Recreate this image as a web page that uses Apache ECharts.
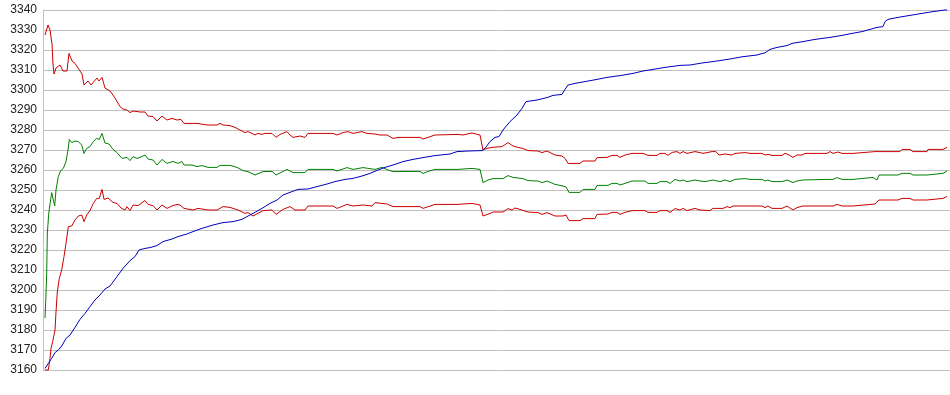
<!DOCTYPE html>
<html>
<head>
<meta charset="utf-8">
<script src="https://cdn.jsdelivr.net/npm/echarts@6/dist/echarts.min.js"></script>
<style>html,body{margin:0;padding:0;background:#fff;}#c{width:950px;height:395px;}</style>
</head>
<body>
<div id="c"></div>
<script>
// y-axis ticks
const yTicks = [3160,3170,3180,3190,3200,3210,3220,3230,3240,3250,3260,3270,3280,3290,3300,3310,3320,3330,3340];
// time index span
const tMax = 907;

// Upper band (red) [time, value]
const upperBand = [[2,3327.5],[5,3332.5],[7,3330],[9,3323],[10,3313],[11,3308],[13,3311],[17,3312.5],[20,3309.5],[24,3309.5],[26,3318.3],[29,3314.5],[32,3313.3],[35,3311],[39,3308],[41,3302.5],[45,3304.5],[48,3302.5],[54,3306],[56,3304.5],[59,3306.3],[62,3301],[67,3299.5],[72,3296],[77,3291.7],[80,3290.5],[84,3290],[87,3288.7],[90,3289.5],[97,3289],[102,3289],[105,3287],[110,3286.7],[114,3284.5],[119,3287],[124,3285],[129,3285.8],[134,3285],[138,3285.3],[141,3283.3],[149,3283.3],[150,3282.5],[155,3283.3],[160,3282.8],[165,3282.5],[174,3282.5],[177,3283.3],[180,3282.5],[187,3282.2],[192,3281.3],[197,3280],[202,3278.7],[205,3279.2],[209,3278.3],[212,3277.5],[215,3278.3],[219,3277.8],[222,3278.3],[229,3278.3],[233,3276.3],[237,3277.8],[244,3279.2],[247,3277.5],[250,3276.3],[257,3277],[262,3276.3],[265,3278.3],[290,3278.3],[294,3277.5],[300,3278.7],[305,3279.2],[310,3278.3],[319,3279.2],[324,3278.3],[332,3278],[337,3277.5],[344,3277.5],[350,3275.8],[355,3276.3],[377,3276.3],[380,3275.5],[385,3276.3],[392,3277.5],[415,3277.8],[417,3278.3],[420,3277.5],[429,3278.5],[437,3277.5],[440,3270],[442,3270.3],[444,3270.8],[449,3271.3],[459,3271.7],[465,3273.7],[470,3272],[475,3271.3],[480,3270.8],[485,3269.7],[495,3269.5],[499,3268.7],[504,3269.5],[512,3267.5],[519,3267],[522,3265.8],[525,3263.3],[537,3263.3],[540,3264.5],[552,3264.5],[554,3266.2],[564,3266.3],[569,3267.3],[574,3267.3],[577,3266.3],[582,3267.5],[589,3268.3],[600,3268.3],[605,3267.3],[614,3267.3],[617,3268.3],[622,3268.3],[625,3267.3],[629,3268.8],[634,3269.2],[637,3268.3],[640,3269.2],[644,3268.3],[652,3269.2],[657,3268.7],[660,3268.3],[669,3269.2],[673,3269.2],[676,3267.5],[682,3268],[689,3267.5],[692,3268.3],[702,3268.7],[707,3268.3],[719,3268.3],[722,3267.5],[725,3267.8],[729,3267.3],[739,3267.3],[742,3268.3],[745,3267.8],[750,3266.3],[754,3267.5],[759,3267.5],[762,3268.3],[784,3268.3],[787,3269.2],[790,3268.3],[795,3269],[799,3268.3],[810,3268.3],[812,3269.2],[832,3269.2],[834,3268.3],[837,3269.2],[857,3269.2],[859,3270.3],[867,3270.3],[870,3269.2],[884,3269.2],[885,3270.3],[900,3270.3],[904,3271.3]];

// Middle line (green)
const midLine = [[2,3186],[2.7,3194],[3.7,3208],[4.3,3228],[5.7,3238],[7,3243],[8.7,3248.7],[10.3,3245],[11.7,3242],[13,3250],[15.3,3256.7],[17.7,3259.7],[20.3,3260.8],[23,3264.2],[25,3270],[26.3,3275.3],[28.7,3273.7],[32,3274.5],[35.3,3274.2],[38.7,3272.5],[41,3268.3],[43.7,3270.8],[47,3271.7],[50.3,3274.2],[53.7,3275.8],[56.3,3275.3],[59,3278.3],[62,3273.5],[66,3273],[70,3270.3],[74,3268.7],[79,3265.8],[84,3266.3],[87,3264.7],[90,3266.7],[94,3265.8],[97,3266.3],[102,3267.5],[105,3265.5],[110,3265],[114,3262.5],[119,3265.3],[124,3263.3],[130,3264.3],[135,3263.3],[139,3264.2],[141,3262.5],[149,3262.5],[154,3261.7],[159,3262.2],[165,3261.3],[174,3261.3],[177,3262.3],[187,3262.3],[194,3261.3],[200,3259.7],[205,3259.2],[212,3257.5],[220,3259.2],[229,3259.3],[233,3257.5],[244,3260.3],[250,3258.7],[262,3258.7],[265,3260.3],[290,3260.3],[294,3259.5],[304,3261.2],[310,3260.3],[320,3261.2],[332,3260.3],[339,3261.3],[345,3260],[350,3259.2],[377,3259.3],[380,3258.3],[385,3259.3],[392,3260.3],[415,3260.3],[417,3261],[429,3260.8],[437,3260.3],[440,3253.7],[445,3255],[450,3255.7],[460,3255.7],[465,3257.2],[470,3256.3],[480,3255.7],[485,3254.7],[495,3254.5],[499,3253.7],[504,3254.5],[512,3252.8],[520,3252],[523,3251.5],[526,3248.8],[537,3248.8],[540,3250.3],[552,3250.3],[554,3252.3],[565,3252.3],[569,3253.3],[574,3253.3],[577,3252.5],[582,3253.3],[589,3254.5],[602,3254.5],[605,3253.3],[614,3253.3],[617,3254.2],[624,3254.2],[627,3253.3],[632,3255.3],[637,3254.5],[640,3255],[644,3254.2],[652,3255],[657,3254.5],[662,3254.2],[670,3255],[677,3254.2],[682,3255],[687,3254.2],[692,3255.3],[702,3255.7],[704,3256.2],[707,3255.3],[719,3255.3],[722,3254.5],[725,3255],[729,3254.2],[739,3254.2],[744,3255],[750,3253.7],[754,3254.5],[760,3255],[784,3255.3],[786,3256.2],[790,3255.3],[794,3256.2],[799,3255.3],[810,3255.3],[812,3256.3],[830,3256.3],[834,3255],[836,3257.5],[855,3257.5],[859,3258.3],[867,3258.3],[870,3257.5],[884,3257.5],[885,3258.3],[900,3258.3],[904,3259.5]];

// Lower band (red)
const lowerBand = [[2,3160],[5.3,3160],[7,3165.8],[8,3170.8],[9.7,3174.2],[11,3175],[12,3180],[13,3189],[14.3,3199],[16.3,3205.8],[18.7,3210],[21,3216.7],[23,3223.3],[25.3,3231.7],[28.7,3232],[32,3235],[35.3,3237],[38.7,3237.5],[41,3234.2],[43.7,3237.5],[47,3239.7],[50.3,3243.3],[53.7,3245.8],[56.3,3245.8],[59,3250.3],[61,3245.3],[65,3246],[70,3243.8],[74,3243.3],[78,3241],[82,3240],[84,3241.7],[87,3239.7],[90,3242.5],[95,3242.2],[102,3244.7],[105,3242.8],[110,3242.2],[114,3240],[119,3242.5],[124,3240.8],[129,3242],[134,3242.8],[137,3242.5],[141,3240.8],[150,3240],[155,3240.8],[165,3240],[174,3240],[180,3241.7],[187,3241.3],[195,3240],[202,3238.3],[205,3238.7],[210,3237],[220,3239.7],[229,3240],[233,3237.8],[240,3240.3],[247,3241.7],[252,3240],[262,3240],[265,3242],[290,3242],[294,3240.8],[304,3242.8],[310,3242],[320,3242.5],[329,3242],[332,3243.7],[344,3243],[350,3241.7],[377,3241.7],[380,3240.8],[392,3242.8],[415,3242.8],[417,3243.7],[420,3243],[429,3243.3],[437,3242.5],[440,3237],[447,3238.3],[450,3239],[460,3239],[465,3240.7],[469,3240],[472,3241],[477,3240.3],[485,3239],[495,3238.7],[499,3237.8],[504,3238.7],[512,3237],[520,3237],[523,3237.5],[526,3234.7],[537,3234.7],[540,3235.7],[552,3235.7],[554,3237.8],[565,3238],[569,3238.8],[574,3238.8],[577,3237.8],[582,3238.8],[589,3239.7],[602,3239.7],[605,3238.8],[614,3238.8],[617,3239.7],[624,3239.7],[627,3238.8],[632,3240.7],[637,3240],[640,3240.8],[644,3239.7],[652,3240.8],[657,3240],[667,3239.7],[670,3240.8],[680,3240.8],[684,3241.7],[687,3241.2],[690,3242],[702,3242],[704,3242.8],[707,3242],[719,3242],[722,3241.2],[725,3242],[729,3240.8],[739,3240.8],[744,3242],[750,3240],[754,3241.2],[760,3242],[784,3242],[786,3242.8],[790,3242],[794,3242.8],[799,3242],[810,3242],[812,3243],[832,3243],[834,3242],[836,3245],[855,3245],[859,3245.8],[867,3245.8],[870,3245],[884,3245],[885,3245.8],[900,3245.8],[904,3246.8]];

// Blue line
const blueLine = [[2,3160.8],[5.3,3163.3],[8.7,3165.8],[12,3168.7],[15.3,3170],[18.7,3172],[23,3175.8],[27,3177.5],[32,3181.3],[37,3185.3],[42,3188.3],[47,3191.7],[52,3195],[57,3197.5],[62,3200.5],[67,3202],[74,3206.7],[80,3210.8],[87,3214.7],[92,3216.7],[96,3220],[102,3220.8],[107,3221.2],[114,3222.2],[120,3224.2],[129,3225.5],[135,3226.7],[144,3228],[150,3229.2],[157,3230.5],[170,3232.5],[180,3233.7],[190,3234.2],[199,3235.3],[204,3236.7],[210,3238.3],[219,3240.8],[227,3243.3],[234,3245],[240,3247.5],[249,3249.2],[255,3250.3],[265,3250.5],[274,3251.7],[284,3253],[292,3254.2],[302,3255.3],[310,3255.8],[319,3257],[327,3258.3],[335,3260],[342,3261.3],[350,3262.5],[360,3264.2],[370,3265.3],[380,3266.2],[392,3267.2],[407,3268],[414,3269.2],[425,3269.5],[439,3269.7],[442,3270.8],[447,3274.2],[452,3276.3],[456,3276.7],[460,3280],[467,3284.2],[474,3287.5],[479,3290.8],[483,3294.2],[494,3295],[504,3296.2],[510,3297.3],[519,3297.8],[522,3300.3],[525,3302.5],[532,3303.3],[542,3304.2],[554,3305.3],[564,3306.3],[577,3307.2],[590,3308.3],[600,3309.5],[610,3310.3],[622,3311.3],[637,3312.3],[647,3312.5],[649,3313.3],[659,3313.5],[661,3314.3],[674,3314.5],[676,3315.3],[687,3315.5],[689,3316.3],[699,3316.6],[700,3317.3],[714,3317.5],[715,3318.3],[722,3318.6],[727,3320.3],[734,3321.3],[744,3322.2],[749,3323.3],[760,3324.2],[772,3325.3],[787,3326.3],[799,3327.3],[809,3328.3],[819,3329.2],[827,3330.3],[834,3331.3],[840,3331.7],[842,3334.2],[845,3335.3],[855,3336.3],[867,3337.3],[879,3338.3],[890,3339.2],[902,3340],[904,3340]];

const chart = echarts.init(document.getElementById('c'), null, {renderer: 'canvas'});
function mk(name, data, color) {
  return {name, type: 'line', data, showSymbol: false, symbol: 'none', smooth: false,
    lineStyle: {color, width: 1}, itemStyle: {color}, animation: false, clip: false};
}
chart.setOption({
  animation: false,
  backgroundColor: '#ffffff',
  grid: {left: 43, right: 0, top: 10, bottom: 25, containLabel: false},
  xAxis: {type: 'value', min: 0, max: tMax, show: false},
  yAxis: {
    type: 'value', min: yTicks[0], max: yTicks[yTicks.length - 1], interval: 10,
    axisLine: {show: true, lineStyle: {color: '#c0c0c0', width: 1}},
    axisTick: {show: false},
    axisLabel: {color: '#222', fontFamily: 'Liberation Sans, Arial, sans-serif', fontSize: 12, margin: 6,
      formatter: function (v) { return String(v); }},
    splitLine: {show: true, lineStyle: {color: '#c0c0c0', width: 1}}
  },
  series: [
    mk('upper', upperBand, '#cc0000'),
    mk('lower', lowerBand, '#cc0000'),
    mk('mid', midLine, '#008000'),
    mk('blue', blueLine, '#0000c0')
  ]
});
</script>
</body>
</html>
